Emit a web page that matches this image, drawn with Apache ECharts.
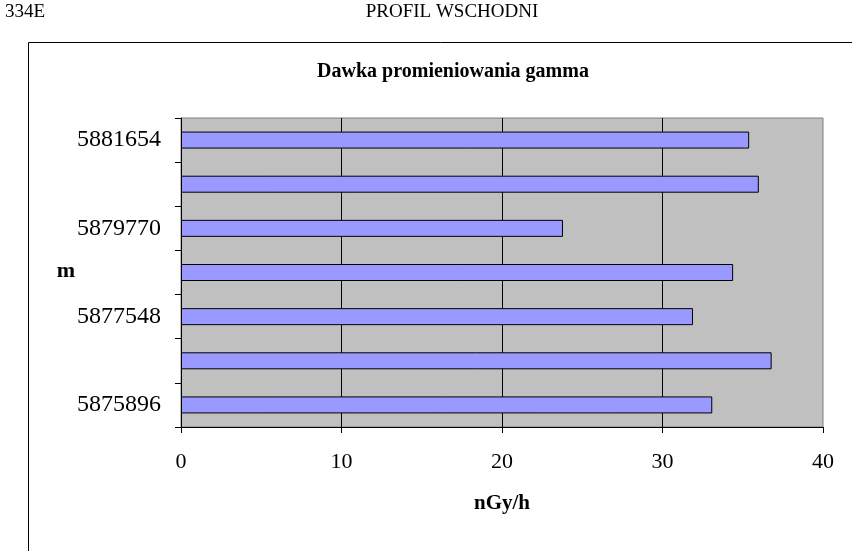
<!DOCTYPE html>
<html>
<head>
<meta charset="utf-8">
<script src="https://cdn.jsdelivr.net/npm/echarts@6/dist/echarts.min.js"></script>
<style>
html,body{margin:0;padding:0;background:#fff;}
#chart{width:852px;height:551px;}
</style>
</head>
<body>
<div id="chart"></div>
<script>
// categories bottom -> top (only every other one is labelled in the reference)
const categories = ['5875896', '5876722', '5877548', '5878659', '5879770', '5880712', '5881654'];
const doseValues = [33.1, 36.8, 31.9, 34.4, 23.8, 36.0, 35.4];
const xTicks = [0, 10, 20, 30, 40];

const FONT = '"Liberation Serif", "Times New Roman", serif';
const chart = echarts.init(document.getElementById('chart'), null, {renderer: 'canvas'});

chart.setOption({
  backgroundColor: '#ffffff',
  animation: false,
  graphic: [
    {type: 'rect', shape: {x: 28.5, y: 42.5, width: 900, height: 600}, style: {fill: null, stroke: '#000', lineWidth: 1}, silent: true},
    {type: 'text', x: 5, y: 12, style: {text: '334E', font: '19px ' + FONT, fill: '#000', verticalAlign: 'middle', align: 'left'}},
    {type: 'text', x: 452, y: 12, style: {text: 'PROFIL WSCHODNI', font: '19px ' + FONT, fill: '#000', verticalAlign: 'middle', align: 'center'}},
    {type: 'text', x: 453, y: 72, style: {text: 'Dawka promieniowania gamma', font: 'bold 20px ' + FONT, fill: '#000', verticalAlign: 'middle', align: 'center'}},
    {type: 'text', x: 66, y: 271, style: {text: 'm', font: 'bold 22px ' + FONT, fill: '#000', verticalAlign: 'middle', align: 'center'}}
  ],
  grid: {
    left: 181, right: 29, top: 118, bottom: 124,
    show: true, backgroundColor: '#c0c0c0', borderColor: '#808080', borderWidth: 1
  },
  xAxis: {
    type: 'value', min: xTicks[0], max: xTicks[xTicks.length - 1], interval: 10,
    name: 'nGy/h', nameLocation: 'middle', nameGap: 66,
    nameTextStyle: {fontFamily: FONT, fontWeight: 'bold', fontSize: 21, color: '#000'},
    axisLine: {show: true, lineStyle: {color: '#000', width: 1}},
    axisTick: {show: true, length: 6, lineStyle: {color: '#000'}},
    axisLabel: {fontFamily: FONT, fontSize: 22, color: '#000', margin: 24},
    splitLine: {show: true, showMinLine: false, showMaxLine: false, lineStyle: {color: '#000', width: 1}}
  },
  yAxis: {
    type: 'category', data: categories,
    axisLine: {show: true, lineStyle: {color: '#000', width: 1}},
    axisTick: {show: true, length: 6, interval: 0, lineStyle: {color: '#000'}},
    axisLabel: {fontFamily: FONT, fontSize: 24, color: '#000', margin: 20, interval: 1},
    splitLine: {show: false}
  },
  series: [{
    type: 'bar', data: doseValues, barWidth: 17,
    itemStyle: {color: '#9999ff', borderColor: '#000', borderWidth: 1}
  }]
});
</script>
</body>
</html>
